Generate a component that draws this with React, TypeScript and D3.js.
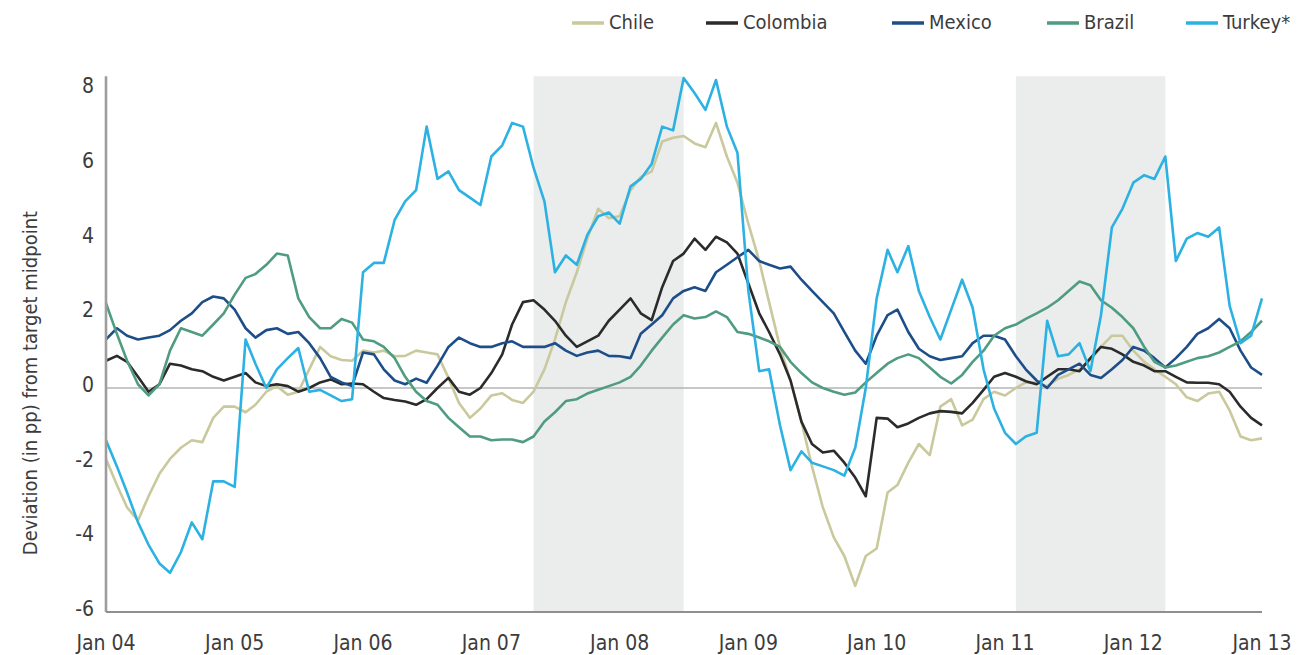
import React from "react";
import * as d3 from "d3";

// ---- data (monthly, Jan 2004 .. Jan 2013), deviation in pp from target midpoint ----
const countries = ["Chile", "Colombia", "Mexico", "Brazil", "Turkey"];

const chile = [
  -1.9, -2.6, -3.2, -3.55, -2.9, -2.3, -1.9, -1.6, -1.4, -1.45, -0.8, -0.5,
  -0.5, -0.65, -0.45, -0.1, 0.05, -0.18, -0.1, 0.5, 1.1, 0.85, 0.75, 0.73,
  1.0, 0.95, 1.0, 0.85, 0.86, 1.0, 0.95, 0.9, 0.27, -0.4, -0.8, -0.55,
  -0.2, -0.14, -0.32, -0.4, -0.1, 0.5, 1.3, 2.3, 3.1, 4.0, 4.8, 4.55,
  4.6, 5.3, 5.65, 5.8, 6.6, 6.7, 6.75, 6.55, 6.45, 7.1, 6.2, 5.5,
  4.4, 3.4, 2.3, 1.1, 0.2, -0.9, -2.1, -3.2, -4.0, -4.5, -5.3, -4.5,
  -4.3, -2.8, -2.6, -2.0, -1.5, -1.8, -0.5, -0.3, -1.0, -0.85, -0.3, -0.1,
  -0.2, 0.0, 0.15, 0.14, 0.05, 0.25, 0.35, 0.5, 0.75, 1.1, 1.4, 1.4,
  1.0, 0.7, 0.5, 0.3, 0.1, -0.25, -0.35, -0.15, -0.1, -0.6, -1.3, -1.4,
  -1.35,
];

const colombia = [
  0.73, 0.86, 0.7, 0.3, -0.1, 0.1, 0.65, 0.6, 0.5, 0.45, 0.3, 0.2,
  0.3, 0.4, 0.15, 0.05, 0.1, 0.05, -0.1, 0.0, 0.15, 0.23, 0.1, 0.12,
  0.1, -0.1, -0.27, -0.32, -0.36, -0.45, -0.3, 0.0, 0.27, -0.1, -0.18, 0.0,
  0.4, 0.9, 1.7, 2.3, 2.35, 2.1, 1.8, 1.4, 1.1, 1.25, 1.4, 1.8,
  2.1, 2.4, 2.0, 1.82, 2.7, 3.4, 3.6, 4.0, 3.7, 4.05, 3.9, 3.6,
  2.8, 2.0, 1.5, 0.9, 0.2, -0.9, -1.5, -1.73, -1.68, -2.0, -2.4, -2.9,
  -0.8, -0.82, -1.05, -0.95, -0.8, -0.68, -0.62, -0.64, -0.68, -0.4, -0.05, 0.3,
  0.4, 0.3, 0.18, 0.1, 0.3, 0.5, 0.5, 0.45, 0.8, 1.1, 1.05, 0.9,
  0.7, 0.6, 0.45, 0.45, 0.3, 0.15, 0.14, 0.14, 0.1, -0.1, -0.5, -0.8,
  -1.0,
];

const mexico = [
  1.3, 1.6, 1.4, 1.3, 1.35, 1.4, 1.55, 1.8, 2.0, 2.3, 2.45, 2.4,
  2.1, 1.6, 1.35, 1.55, 1.6, 1.45, 1.5, 1.2, 0.8, 0.3, 0.15, 0.05,
  0.95, 0.9, 0.5, 0.2, 0.1, 0.25, 0.14, 0.6, 1.1, 1.35, 1.2, 1.1,
  1.1, 1.2, 1.25, 1.1, 1.1, 1.1, 1.2, 1.0, 0.86, 0.95, 1.0, 0.86,
  0.85, 0.8, 1.45, 1.7, 1.95, 2.4, 2.6, 2.7, 2.6, 3.1, 3.3, 3.5,
  3.7, 3.4, 3.3, 3.2, 3.25, 2.9, 2.6, 2.3, 2.0, 1.5, 1.0, 0.65,
  1.4, 1.95, 2.1, 1.5, 1.05, 0.85, 0.75, 0.8, 0.85, 1.2, 1.4, 1.4,
  1.3, 0.85, 0.5, 0.2, 0.0, 0.35, 0.5, 0.65, 0.35, 0.27, 0.5, 0.75,
  1.1, 1.0, 0.8, 0.55, 0.8, 1.1, 1.45, 1.6, 1.85, 1.6, 1.0, 0.55,
  0.35,
];

const brazil = [
  2.27, 1.45, 0.73, 0.1, -0.2, 0.1, 1.0, 1.6, 1.5, 1.4, 1.7, 2.0,
  2.5, 2.95, 3.05, 3.3, 3.6, 3.55, 2.4, 1.9, 1.6, 1.6, 1.85, 1.75,
  1.3, 1.25, 1.1, 0.8, 0.3, -0.1, -0.35, -0.45, -0.8, -1.05, -1.3, -1.3,
  -1.4, -1.38, -1.38, -1.45, -1.3, -0.9, -0.65, -0.35, -0.3, -0.15, -0.05, 0.05,
  0.15, 0.3, 0.6, 1.0, 1.35, 1.7, 1.95, 1.86, 1.9, 2.05, 1.9, 1.5,
  1.45, 1.35, 1.25, 1.1, 0.7, 0.4, 0.15, 0.0, -0.1, -0.18, -0.12, 0.15,
  0.4, 0.65, 0.8, 0.9, 0.8, 0.55, 0.3, 0.12, 0.35, 0.7, 1.0, 1.4,
  1.6, 1.7, 1.85, 2.0, 2.15, 2.35, 2.6, 2.85, 2.75, 2.35, 2.15, 1.9,
  1.6, 1.1, 0.7, 0.55, 0.6, 0.7, 0.8, 0.85, 0.95, 1.1, 1.25, 1.5,
  1.8,
];

const turkey = [
  -1.4, -2.1, -2.8, -3.6, -4.2, -4.7, -4.95, -4.4, -3.6, -4.05, -2.5, -2.5,
  -2.65, 1.3, 0.65, 0.0, 0.5, 0.8, 1.07, -0.1, -0.05, -0.2, -0.35, -0.3,
  3.1, 3.35, 3.35, 4.5, 5.0, 5.3, 7.0, 5.6, 5.8, 5.3, 5.1, 4.9,
  6.2, 6.5, 7.1, 7.0, 5.9, 5.0, 3.1, 3.55, 3.3, 4.1, 4.6, 4.7,
  4.4, 5.4, 5.6, 6.0, 7.0, 6.9, 8.3, 7.9, 7.45, 8.25, 7.0, 6.3,
  2.6, 0.45, 0.5, -1.0, -2.2, -1.7, -2.0, -2.1, -2.2, -2.35, -1.6, 0.0,
  2.4, 3.7, 3.1, 3.8, 2.6, 1.9, 1.3, 2.1, 2.9, 2.15, 0.5, -0.55,
  -1.2, -1.5, -1.3, -1.2, 1.8, 0.85, 0.9, 1.2, 0.45, 1.95, 4.3, 4.8,
  5.5, 5.7, 5.6, 6.2, 3.4, 4.0, 4.15, 4.05, 4.3, 2.2, 1.2, 1.4,
  2.4,
];

const seriesValues = [chile, colombia, mexico, brazil, turkey];
const xTickLabels = ["Jan 04", "Jan 05", "Jan 06", "Jan 07", "Jan 08", "Jan 09", "Jan 10", "Jan 11", "Jan 12", "Jan 13"];
const yTicks = [-6, -4, -2, 0, 2, 4, 6, 8];
const shadedPeriods = [
  ["2007-05-01", "2008-07-01"],
  ["2011-02-01", "2012-04-01"],
];
const yTitle = "Deviation (in pp) from target midpoint";

// ---- styles / layout ----
const colors = ["#c9c99d", "#2b2b2b", "#1d4e8a", "#4f9c80", "#2cb1e3"];
const legendX = [572, 706, 892, 1047, 1186];
const FONT = "'Liberation Sans Narrow', 'DejaVu Sans Condensed', 'Roboto Condensed', 'Arial Narrow', sans-serif";

export default function App() {
  const W = 1297;
  const H = 655;
  const start = new Date(2004, 0, 1);
  const end = new Date(2013, 0, 1);
  const x = d3.scaleTime().domain([start, end]).range([106, 1262]);
  const y = d3.scaleLinear().domain([-6, 8]).range([612, 89.3]);
  const months = d3.timeMonth.range(start, new Date(2013, 1, 1));
  const yearTicks = d3.timeYear.range(start, new Date(2013, 1, 1));
  const line = d3
    .line<number>()
    .x((_, i) => x(months[i]))
    .y((d) => y(d));
  const plotTop = y(8.35);
  const parse = d3.timeParse("%Y-%m-%d");

  return (
    <svg
      width={W}
      height={H}
      style={{ position: "absolute", left: 0, top: 0, display: "block", background: "#fff" }}
      fontFamily={FONT}
    >
      {shadedPeriods.map(([a, b], i) => (
        <rect
          key={i}
          x={x(parse(a)!)}
          y={plotTop}
          width={x(parse(b)!) - x(parse(a)!)}
          height={y(-6) - plotTop}
          fill="#ebecec"
        />
      ))}
      <line x1={x(start)} x2={x(end)} y1={y(0)} y2={y(0)} stroke="#b5b5b5" strokeWidth={1.6} />
      {seriesValues.map((vals, i) => (
        <path
          key={countries[i]}
          d={line(vals) || ""}
          fill="none"
          stroke={colors[i]}
          strokeWidth={2.6}
          strokeLinejoin="round"
        />
      ))}
      {/* axes */}
      <line x1={x(start)} x2={x(start)} y1={plotTop} y2={y(-6)} stroke="#9d9d9d" strokeWidth={2.6} />
      <line x1={x(start)} x2={x(end)} y1={y(-6)} y2={y(-6)} stroke="#8f8f8f" strokeWidth={2.2} />
      {yTicks.map((t) => (
        <text key={t} x={94} y={y(t) - 2} fontSize={21} fill="#3c3c3c" textAnchor="end" dominantBaseline="middle">
          {t < 0 ? "-" + Math.abs(t) : String(t)}
        </text>
      ))}
      {yearTicks.map((d, i) => (
        <text key={i} x={x(d)} y={650} fontSize={21} fill="#3c3c3c" textAnchor="middle">
          {xTickLabels[i]}
        </text>
      ))}
      <text
        transform={`translate(31, ${383}) rotate(-90)`}
        fontSize={20}
        fill="#3c3c3c"
        textAnchor="middle"
        dominantBaseline="middle"
      >
        {yTitle}
      </text>
      {/* legend */}
      {countries.map((c, i) => (
        <g key={c} transform={`translate(${legendX[i]}, 23)`}>
          <line x1={0} x2={32} y1={0} y2={0} stroke={colors[i]} strokeWidth={3.5} />
          <text x={37} y={0} fontSize={20} fill="#3c3c3c" dominantBaseline="middle">
            {c === "Turkey" ? "Turkey*" : c}
          </text>
        </g>
      ))}
    </svg>
  );
}
